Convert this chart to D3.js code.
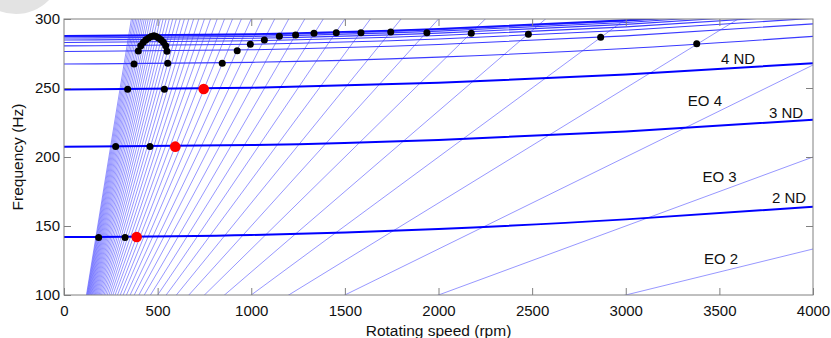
<!DOCTYPE html>
<html>
<head>
<meta charset="utf-8">
<script src="https://cdn.jsdelivr.net/npm/d3@7"></script>
<style>
  html, body { margin: 0; padding: 0; background: #fff; }
  svg { display: block; font-family: "Liberation Sans", Arial, sans-serif; }
</style>
</head>
<body>
<svg id="chart"></svg>
<script>
// rotating speeds (rpm) at which the nodal diameter curves were read
const ndSpeeds = [0, 1000, 2000, 3000, 4000];

// nodal diameter frequencies (Hz)
const nd2 = [142, 143.5, 147.8, 154.8, 164];
const nd3 = [207.5, 208.7, 212.4, 218.5, 227];
const nd4 = [249, 250.2, 253.8, 259.7, 268];
const nd5 = [267.4, 268.6, 272.4, 278.6, 287.4];
const nd6 = [276.5, 277.7, 281.5, 287.8, 296.5];
const nd7 = [280.5, 281.7, 285.5, 291.8, 300.5];
const nd8 = [283, 284.2, 288, 294.3, 303];
const nd9 = [284.8, 286, 289.8, 296.1, 304.8];
const nd10 = [286.2, 287.4, 291.2, 297.5, 306.2];
const nd11 = [287.2, 288.4, 292.2, 298.5, 307.2];
const nd12 = [287.8, 289, 292.8, 299.1, 307.8];

const mainModes = [nd2, nd3, nd4];
const upperModes = [nd5, nd6, nd7, nd8, nd9, nd10, nd11];

// engine orders drawn as speed lines
const engineOrders = [2, 3, 4, 5, 6, 7, 8, 9, 10, 11, 12, 13, 14, 15, 16, 17, 18, 19, 20,
    21, 22, 23, 24, 25, 26, 27, 28, 29, 30, 31, 32, 33, 34, 35, 36, 37, 38, 39, 40,
    41, 42, 43, 44, 45, 46, 47, 48, 49, 50];

// black crossing points [rpm, Hz]
const blackSpeeds = [185, 326, 276, 459, 340, 536, 374, 554, 397, 550,
    410, 424, 438, 452, 466, 480, 492, 505, 518, 531, 543,
    845, 925, 995, 1070, 1150, 1237, 1335, 1454, 1586, 1745, 1938, 2175, 2480, 2866, 3379];
const blackFreqs = [141.6, 141.6, 207.6, 207.6, 249.1, 249.1, 267.4, 267.9, 276.8, 276.6,
    280.6, 283.1, 284.9, 286.3, 287.3, 287.9, 287.3, 286.3, 284.9, 283.1, 280.6,
    267.9, 277, 281.7, 284.8, 287.5, 288.4, 289.6, 290.1, 290.1, 290.6, 290.1, 289.6, 288.9, 286.7, 282.1];

// red crossing points
const redSpeeds = [388, 594, 746];
const redFreqs = [142, 207.5, 249.3];

const xTicks = [0, 500, 1000, 1500, 2000, 2500, 3000, 3500, 4000];
const yTicks = [100, 150, 200, 250, 300];

// curve labels: text, rpm, Hz
const labelText = ['4 ND', 'EO 4', '3 ND', 'EO 3', '2 ND', 'EO 2'];
const labelSpeed = [3600, 3423, 3856, 3501, 3872, 3509];
const labelFreq = [271.7, 241.3, 232.6, 186.2, 170.7, 126.4];

const width = 831;
const height = 338;
const marginLeft = 64;
const marginRight = 18;
const marginTop = 19;
const marginBottom = 43;

const x = d3.scaleLinear().domain([0, 4000]).range([marginLeft, width - marginRight]);
const y = d3.scaleLinear().domain([100, 300]).range([height - marginBottom, marginTop]);

const svg = d3.select('#chart').attr('width', width).attr('height', height);

// faint grey disc in the top-left corner
svg.append('circle')
    .attr('cx', 16).attr('cy', -32).attr('r', 46)
    .attr('fill', '#e3e3e3');

svg.append('clipPath').attr('id', 'plot-clip')
    .append('rect')
    .attr('x', marginLeft).attr('y', marginTop)
    .attr('width', width - marginLeft - marginRight)
    .attr('height', height - marginTop - marginBottom);

const plot = svg.append('g').attr('clip-path', 'url(#plot-clip)');

// engine order lines
plot.append('g')
    .selectAll('line')
    .data(engineOrders)
    .join('line')
    .attr('x1', x(0))
    .attr('y1', y(0))
    .attr('x2', x(4000))
    .attr('y2', (n) => y((n * 4000) / 60))
    .attr('stroke', '#5c5cff')
    .attr('stroke-opacity', 0.8)
    .attr('stroke-width', 0.8);

const ndLine = d3.line()
    .x((d, i) => x(ndSpeeds[i]))
    .y((d) => y(d))
    .curve(d3.curveMonotoneX);

plot.append('g')
    .selectAll('path')
    .data(upperModes)
    .join('path')
    .attr('d', ndLine)
    .attr('fill', 'none')
    .attr('stroke', '#3a3aff')
    .attr('stroke-width', 1.1);

plot.append('path')
    .attr('d', ndLine(nd12))
    .attr('fill', 'none')
    .attr('stroke', '#1010ff')
    .attr('stroke-width', 1.8);

plot.append('g')
    .selectAll('path')
    .data(mainModes)
    .join('path')
    .attr('d', ndLine)
    .attr('fill', 'none')
    .attr('stroke', '#0000ff')
    .attr('stroke-width', 2);

// crossing points
svg.append('g')
    .selectAll('circle')
    .data(blackSpeeds)
    .join('circle')
    .attr('cx', (d) => x(d))
    .attr('cy', (d, i) => y(blackFreqs[i]))
    .attr('r', 3.5)
    .attr('fill', '#000');

svg.append('g')
    .selectAll('circle')
    .data(redSpeeds)
    .join('circle')
    .attr('cx', (d) => x(d))
    .attr('cy', (d, i) => y(redFreqs[i]))
    .attr('r', 5.3)
    .attr('fill', '#ff0000');

// box and axes
svg.append('rect')
    .attr('x', marginLeft).attr('y', marginTop)
    .attr('width', width - marginLeft - marginRight)
    .attr('height', height - marginTop - marginBottom)
    .attr('fill', 'none')
    .attr('stroke', '#808080');

const styleAxis = (g) => {
    g.select('.domain').remove();
    g.selectAll('.tick line').attr('stroke', '#808080');
    g.selectAll('.tick text').attr('fill', '#111').style('font-size', '15px');
};

svg.append('g')
    .attr('transform', `translate(0,${height - marginBottom})`)
    .call(d3.axisBottom(x).tickValues(xTicks).tickFormat(d3.format('d'))
        .tickSizeInner(-7).tickSizeOuter(0).tickPadding(10))
    .call(styleAxis);

svg.append('g')
    .attr('transform', `translate(0,${marginTop})`)
    .call(d3.axisTop(x).tickValues(xTicks.slice(1, -1)).tickFormat('')
        .tickSizeInner(-7).tickSizeOuter(0))
    .call(styleAxis);

svg.append('g')
    .attr('transform', `translate(${marginLeft},0)`)
    .call(d3.axisLeft(y).tickValues(yTicks).tickFormat(d3.format('d'))
        .tickSizeInner(-7).tickSizeOuter(0).tickPadding(4))
    .call(styleAxis);

svg.append('g')
    .attr('transform', `translate(${width - marginRight},0)`)
    .call(d3.axisRight(y).tickValues(yTicks.slice(1, -1)).tickFormat('')
        .tickSizeInner(-7).tickSizeOuter(0))
    .call(styleAxis);

// curve labels
svg.append('g')
    .selectAll('text')
    .data(labelText)
    .join('text')
    .attr('x', (d, i) => x(labelSpeed[i]))
    .attr('y', (d, i) => y(labelFreq[i]))
    .attr('text-anchor', 'middle')
    .attr('dominant-baseline', 'central')
    .attr('fill', '#111')
    .style('font-size', '15px')
    .text((d) => d);

// axis titles
svg.append('text')
    .attr('x', (marginLeft + width - marginRight) / 2)
    .attr('y', 336)
    .attr('text-anchor', 'middle')
    .attr('fill', '#111')
    .style('font-size', '15.5px')
    .text('Rotating speed (rpm)');

svg.append('text')
    .attr('transform', `translate(23,${(marginTop + height - marginBottom) / 2}) rotate(-90)`)
    .attr('text-anchor', 'middle')
    .attr('fill', '#111')
    .style('font-size', '15.5px')
    .text('Frequency (Hz)');
</script>
</body>
</html>
